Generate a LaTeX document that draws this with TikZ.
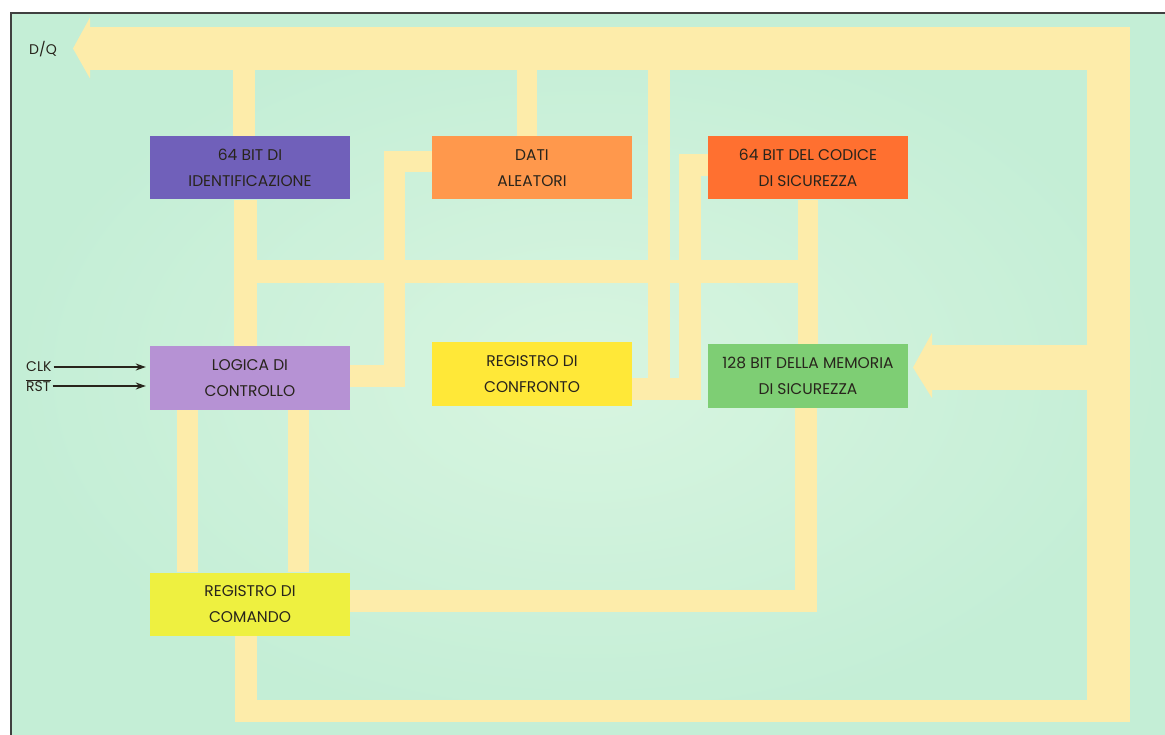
\documentclass[tikz,border=0pt]{standalone}
\usepackage{fontspec}
\setmainfont{Poppins}
\usetikzlibrary{arrows.meta, calc}

\definecolor{bgmint}{RGB}{196,238,214}
\definecolor{bglight}{RGB}{216,245,224}
\definecolor{bus}{RGB}{253,236,170}
\definecolor{idcol}{RGB}{112,96,186}
\definecolor{daticol}{RGB}{255,152,76}
\definecolor{codecol}{RGB}{255,112,48}
\definecolor{logiccol}{RGB}{182,146,212}
\definecolor{confrcol}{RGB}{255,232,56}
\definecolor{memcol}{RGB}{126,206,116}
\definecolor{cmdcol}{RGB}{238,240,64}
\definecolor{txt}{RGB}{40,36,28}

\pgfdeclarelayer{paper}
\pgfdeclarelayer{lanes}
\pgfsetlayers{paper,lanes,main}

\tikzset{
    block/.style={minimum width=200pt, minimum height=63pt, inner sep=0pt,
        text=txt, align=center, font=\fontsize{15.5}{26}\selectfont},
    lane/.style={draw=bus, line width=22pt},
    widelane/.style={draw=bus, line width=43pt},
    sig/.style={text=txt, inner sep=2pt, font=\fontsize{14}{14}\selectfont},
}

\begin{document}
\begin{tikzpicture}[x=1pt,y=-1pt]
    \useasboundingbox (0,0) rectangle (1165,735);

    \begin{pgfonlayer}{paper}
    \fill[white] (0,0) rectangle (1165,735);
    \shade[inner color=bglight, outer color=bgmint] (11,13) rectangle (1165,735);
    \draw[black!75, line width=1.3pt] (10,13) -- (1165,13);
    \draw[black!75, line width=1.3pt] (11,13) -- (11,735);
    \end{pgfonlayer}

    \node[block, fill=idcol] (id) at (250,168) {64 BIT DI\\IDENTIFICAZIONE};
    \node[block, fill=daticol] (dati) at (532,168) {DATI\\ALEATORI};
    \node[block, fill=codecol] (code) at (808,168) {64 BIT DEL CODICE\\DI SICUREZZA};
    \node[block, fill=logiccol] (logic) at (250,378) {LOGICA DI\\CONTROLLO};
    \node[block, fill=confrcol] (confr) at (532,374) {REGISTRO DI\\CONFRONTO};
    \node[block, fill=memcol] (mem) at (808,376) {128 BIT DELLA MEMORIA\\DI SICUREZZA};
    \node[block, fill=cmdcol] (cmd) at (250,604) {REGISTRO DI\\COMANDO};

    \node[sig, anchor=west] (dqlabel) at (27,49) {D/Q};
    \node[sig, anchor=west] (clk) at (24,367) {CLK};
    \node[sig, anchor=west] (rst) at (24,386) {$\overline{\mbox{RST}}$};

    \draw[->,>={Stealth[length=10pt,width=7pt]}, line width=1.1pt, txt, shorten >=4pt]
        (clk.east) -- (clk.east -| logic.west);
    \draw[->,>={Stealth[length=10pt,width=7pt]}, line width=1.1pt, txt, shorten >=4pt]
        (rst.east) -- (rst.east -| logic.west);

    \coordinate (dq) at (90,48.5);
    \coordinate (ne) at (1108,48.5);
    \coordinate (se) at (1108,722);
    \coordinate (sw) at (1100,711);
    \coordinate (ca) at (659,389);
    \coordinate (cb) at (690,389);
    \coordinate (ct) at (690,165);
    \coordinate (hl) at (245,271.5);
    \coordinate (hr) at (808,271.5);
    \coordinate (ma) at (932,367.5);

    \begin{pgfonlayer}{lanes}
    \draw[widelane] (dq) -- (ne) -- (se);
    \fill[bus] ($(dq)+(0,-31)$) -- ($(dq)+(-17,0)$) -- ($(dq)+(0,30)$) -- cycle;
    \draw[lane] ([xshift=-6pt]id.north) -- ([xshift=-6pt]id.north |- dq);
    \draw[lane, line width=20pt] ([xshift=-5pt]dati.north) -- ([xshift=-5pt]dati.north |- dq);
    \draw[lane] (ca |- dq) -- (ca);
    \draw[lane] ([yshift=-15pt]confr.east) -- (cb) -- (ct) -- (code.west |- ct);
    \draw[lane, line width=23pt] (hl) -- (hr);
    \draw[lane, line width=23pt] ([xshift=-5pt]id.south) -- ([xshift=-5pt]logic.north);
    \draw[lane, line width=20pt] (code.south) -- (mem.north);
    \draw[lane, line width=21pt] ([yshift=6pt]dati.west) -| (394,376) -- ([yshift=2pt]logic.east);
    \draw[lane, line width=21pt] ([xshift=-63pt]logic.south) -- ([xshift=-63pt]cmd.north);
    \draw[lane, line width=21pt] ([xshift=48pt]logic.south) -- ([xshift=48pt]cmd.north);
    \draw[lane] ([yshift=3pt]cmd.east) -| ([xshift=-2pt]mem.south);
    \draw[lane] ([xshift=-4pt]cmd.south) |- (sw);
    \draw[lane, line width=45pt] (ma -| se) -- (ma);
    \fill[bus] ($(ma)+(0,-34.5)$) -- ($(ma)+(-19,0)$) -- ($(ma)+(0,30.5)$) -- cycle;
    \end{pgfonlayer}
\end{tikzpicture}
\end{document}
